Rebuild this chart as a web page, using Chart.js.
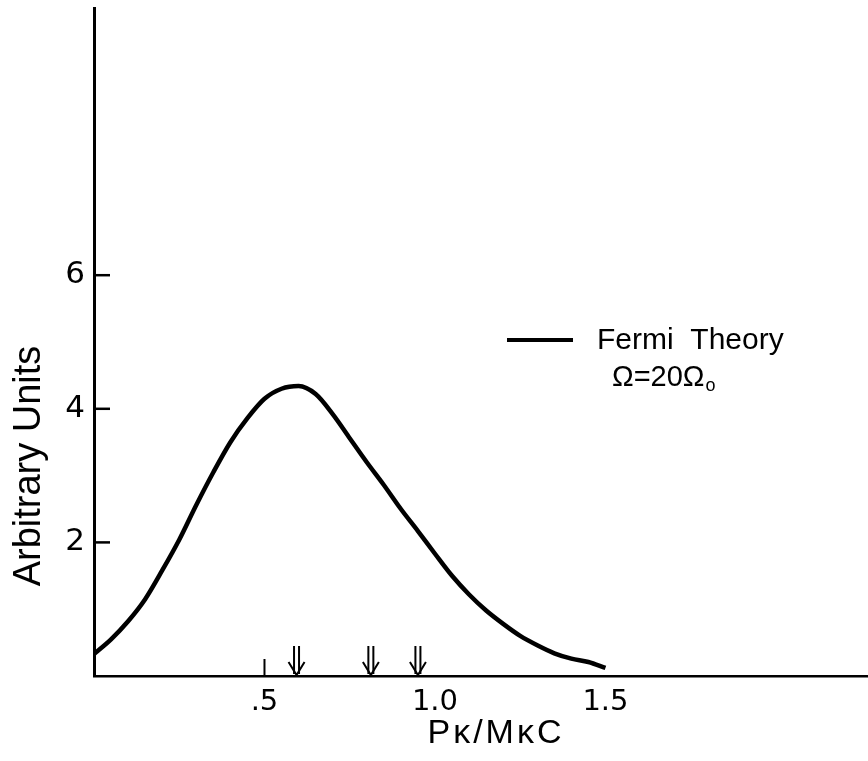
<!DOCTYPE html>
<html>
<head>
<meta charset="utf-8">
<script src="https://cdn.jsdelivr.net/npm/chart.js@4.4.1/dist/chart.umd.min.js"></script>
<style>
html,body{margin:0;padding:0;background:#fff;}
#wrap{width:868px;height:761px;position:relative;}
</style>
</head>
<body>
<div id="wrap"><canvas id="c" width="868" height="761"></canvas></div>
<script>
// Data
const momentum = [0.0,0.05,0.1,0.15,0.2,0.25,0.3,0.35,0.4,0.45,0.5,0.55,0.6,0.65,0.7,0.75,0.8,0.85,0.9,0.95,1.0,1.05,1.1,1.15,1.2,1.25,1.3,1.35,1.4,1.45,1.5];
const fermiTheory = [0.33,0.55,0.82,1.15,1.58,2.04,2.56,3.05,3.5,3.86,4.15,4.3,4.34,4.22,3.92,3.56,3.2,2.86,2.5,2.17,1.83,1.5,1.22,0.98,0.78,0.6,0.46,0.34,0.26,0.21,0.12];
const xTickValues = [0.5, 1.0, 1.5];
const xTickLabels = [".5", "1.0", "1.5"];
const yTickValues = [2, 4, 6];
const yTickLabels = ["2", "4", "6"];
const plainTickMarks = [0.5];
const arrowMarks = [0.594, 0.812, 0.95];
const xTitle = "Pκ/MκC";
const yTitle = "Arbitrary Units";
const legendLine1 = "Fermi  Theory";
const legendLine2 = "Ω=20Ω";
const legendSub = "o";

const FONT = "'Liberation Sans', Arial, sans-serif";
const NUMFONT = "'DejaVu Sans', sans-serif";

const decor = {
  id: 'decor',
  afterDraw(chart) {
    const ctx = chart.ctx, xs = chart.scales.x, ys = chart.scales.y;
    const ay = ys.getPixelForValue(0);
    ctx.save();
    ctx.strokeStyle = '#000'; ctx.fillStyle = '#000';
    // inward y tick marks
    ctx.lineWidth = 2.5;
    yTickValues.forEach(v => {
      const py = ys.getPixelForValue(v);
      ctx.beginPath(); ctx.moveTo(chart.chartArea.left, py); ctx.lineTo(chart.chartArea.left + 16, py); ctx.stroke();
    });
    // plain tick marks on x axis
    ctx.lineWidth = 2;
    plainTickMarks.forEach(v => {
      const px = xs.getPixelForValue(v);
      ctx.beginPath(); ctx.moveTo(px, ay); ctx.lineTo(px, ay - 17); ctx.stroke();
    });
    // double arrows
    arrowMarks.forEach(v => {
      const px = xs.getPixelForValue(v);
      ctx.lineWidth = 2;
      ctx.beginPath();
      ctx.moveTo(px - 2.5, ay - 30); ctx.lineTo(px - 2.5, ay - 2);
      ctx.moveTo(px + 2.5, ay - 30); ctx.lineTo(px + 2.5, ay - 2);
      ctx.stroke();
      ctx.beginPath();
      ctx.moveTo(px - 8, ay - 14); ctx.lineTo(px, ay - 1); ctx.lineTo(px + 8, ay - 14);
      ctx.stroke();
    });
    // axis titles
    ctx.textAlign = 'center'; ctx.textBaseline = 'middle';
    ctx.font = "34px " + FONT;
    ctx.letterSpacing = '3px';
    ctx.fillText(xTitle, 496, 734);
    ctx.letterSpacing = '0px';
    ctx.save();
    ctx.translate(30, 466); ctx.rotate(-Math.PI / 2);
    ctx.font = "38px " + FONT;
    ctx.fillText(yTitle, 0, 0);
    ctx.restore();
    // legend
    ctx.lineWidth = 4;
    ctx.beginPath(); ctx.moveTo(507, 340); ctx.lineTo(573, 340); ctx.stroke();
    ctx.font = "30px " + FONT;
    ctx.textAlign = 'left'; ctx.textBaseline = 'middle';
    ctx.fillText(legendLine1, 597, 341);
    ctx.font = "29px " + FONT;
    ctx.fillText(legendLine2, 612, 378);
    const w = ctx.measureText(legendLine2).width;
    ctx.font = "18px " + FONT;
    ctx.fillText(legendSub, 612 + w + 1, 386);
    ctx.restore();
  }
};

new Chart(document.getElementById('c'), {
  type: 'line',
  data: {
    datasets: [{
      label: 'Fermi Theory',
      data: momentum.map((x, i) => ({x: x, y: fermiTheory[i]})),
      borderColor: '#000',
      borderWidth: 4.5,
      pointRadius: 0,
      cubicInterpolationMode: 'monotone',
      fill: false
    }]
  },
  options: {
    responsive: false,
    animation: false,
    layout: {padding: {top: 8, right: 0, left: 0, bottom: 0}},
    plugins: {legend: {display: false}, tooltip: {enabled: false}},
    scales: {
      x: {
        type: 'linear', min: 0, max: 2.27,
        afterBuildTicks: s => { s.ticks = xTickValues.map(v => ({value: v})); },
        afterFit: s => { s.height = 85; s.paddingLeft = 0; s.paddingRight = 0; },
        ticks: {
          autoSkip: false, maxRotation: 0, padding: 9,
          color: '#000', font: {family: NUMFONT, size: 29},
          callback: (v) => { const i = xTickValues.indexOf(v); return i >= 0 ? xTickLabels[i] : ''; }
        },
        grid: {display: true, drawOnChartArea: false, drawTicks: false},
        border: {display: true, color: '#000', width: 2.5}
      },
      y: {
        type: 'linear', min: 0, max: 10,
        afterBuildTicks: s => { s.ticks = yTickValues.map(v => ({value: v})); },
        afterFit: s => { s.width = 94; s.paddingTop = 0; s.paddingBottom = 0; },
        ticks: {
          autoSkip: false, padding: 9,
          color: '#000', font: {family: NUMFONT, size: 31},
          callback: (v) => { const i = yTickValues.indexOf(v); return i >= 0 ? yTickLabels[i] : ''; }
        },
        grid: {display: true, drawOnChartArea: false, drawTicks: false},
        border: {display: true, color: '#000', width: 3}
      }
    }
  },
  plugins: [decor]
});
</script>
</body>
</html>
